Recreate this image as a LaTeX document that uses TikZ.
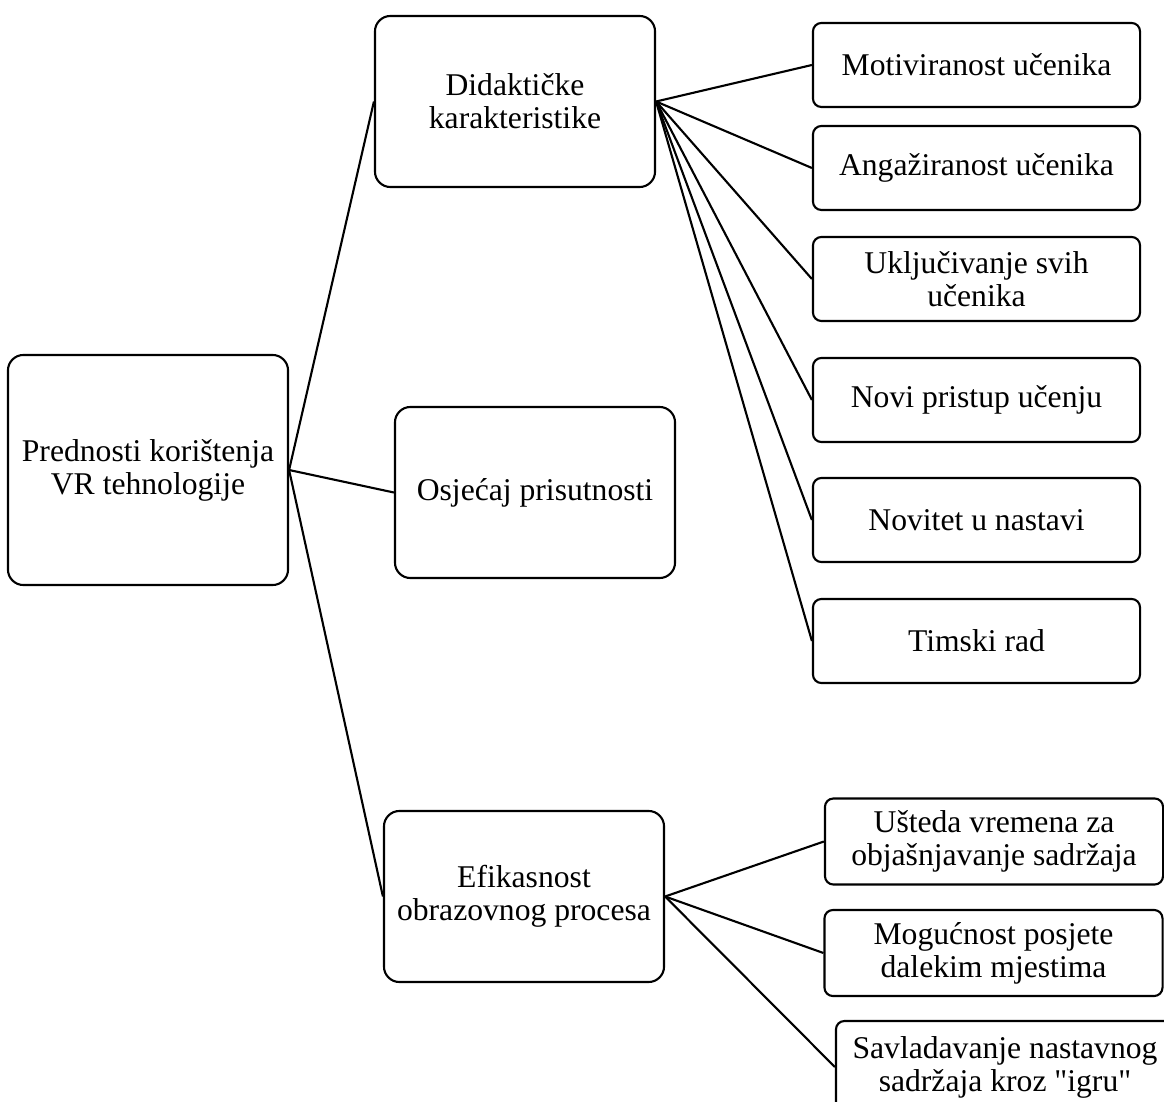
\documentclass[tikz,border=0pt]{standalone}
\usepackage{fontspec}
\setmainfont{Liberation Serif}[Ligatures=TeXOff]

\begin{document}
\begin{tikzpicture}[x=0.025cm, y=-0.025cm, line width=1.5pt,
  box/.style={draw, align=center, inner sep=2pt,
    font=\fontsize{22.5}{23.5}\selectfont},
  mainbox/.style={box, rounded corners=11pt, minimum width=7cm, minimum height=4.275cm},
  leafbox/.style={box, rounded corners=6pt, minimum width=8.175cm, minimum height=2.1cm},
  widebox/.style={box, rounded corners=6pt, minimum width=8.45cm, minimum height=2.15cm}]
  % Page frame
  \useasboundingbox (0,0) rectangle (1164,1102);
  % Root
  \node[mainbox, minimum height=5.75cm] (root) at (148,470) {Prednosti korištenja\\VR tehnologije};
  % Middle column
  \node[mainbox] (did) at (515,101.5) {Didaktičke\\karakteristike};
  \node[mainbox] (osj) at (535,492.5) {Osjećaj prisutnosti};
  \node[mainbox] (efi) at (524,896.5) {Efikasnost\\obrazovnog procesa};
  % Right column, upper group
  \node[leafbox] (mot) at (976.5,65) {Motiviranost učenika};
  \node[leafbox] (ang) at (976.5,168) {Angažiranost učenika};
  \node[leafbox] (ukl) at (976.5,279) {Uključivanje svih\\učenika};
  \node[leafbox] (nov) at (976.5,400) {Novi pristup učenju};
  \node[leafbox] (nvt) at (976.5,520) {Novitet u nastavi};
  \node[leafbox] (tim) at (976.5,641) {Timski rad};
  % Right column, lower group
  \node[widebox] (ust) at (994,841.5) {Ušteda vremena za\\objašnjavanje sadržaja};
  \node[widebox] (mog) at (993.5,953) {Mogućnost posjete\\dalekim mjestima};
  \node[widebox, minimum height=2.3cm] (sav) at (1005,1067) {Savladavanje nastavnog\\sadržaja kroz "igru"};
  % Connectors
  \draw (root.east) -- (did.west);
  \draw (root.east) -- (osj.west);
  \draw (root.east) -- (efi.west);
  \draw (did.east) -- (mot.west);
  \draw (did.east) -- (ang.west);
  \draw (did.east) -- (ukl.west);
  \draw (did.east) -- (nov.west);
  \draw (did.east) -- (nvt.west);
  \draw (did.east) -- (tim.west);
  \draw (efi.east) -- (ust.west);
  \draw (efi.east) -- (mog.west);
  \draw (efi.east) -- (sav.west);
\end{tikzpicture}
\end{document}
